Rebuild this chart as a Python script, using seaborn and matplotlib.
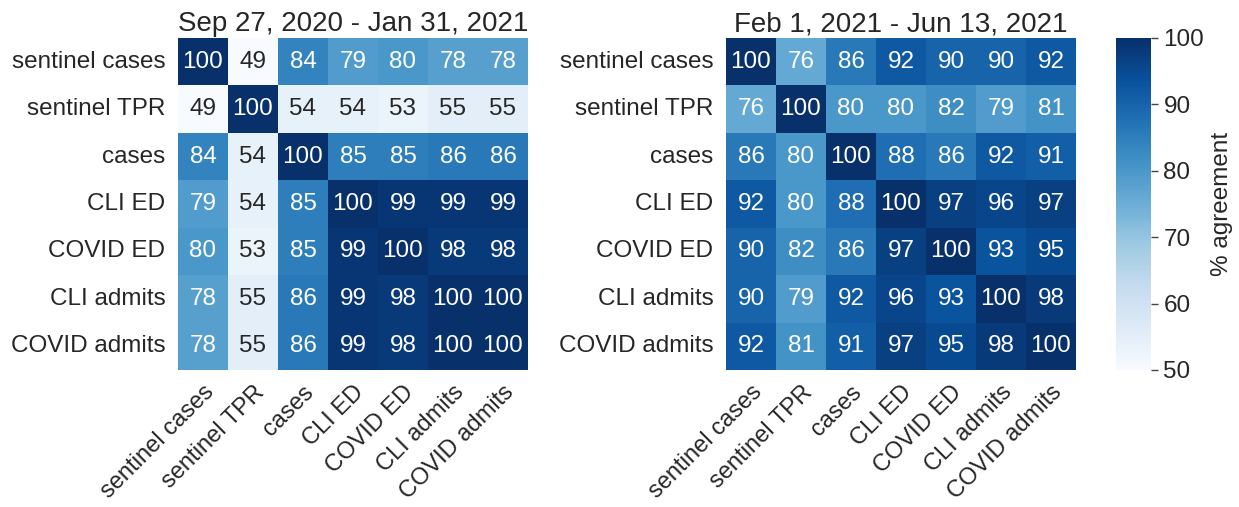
import numpy as np
import pandas as pd
import matplotlib
matplotlib.use("Agg")
import matplotlib.pyplot as plt
import seaborn as sns

labels = ["sentinel cases", "sentinel TPR", "cases", "CLI ED", "COVID ED", "CLI admits", "COVID admits"]

period1 = "Sep 27, 2020 - Jan 31, 2021"
period2 = "Feb 1, 2021 - Jun 13, 2021"

agree1 = [
    [100, 49, 84, 79, 80, 78, 78],
    [49, 100, 54, 54, 53, 55, 55],
    [84, 54, 100, 85, 85, 86, 86],
    [79, 54, 85, 100, 99, 99, 99],
    [80, 53, 85, 99, 100, 98, 98],
    [78, 55, 86, 99, 98, 100, 100],
    [78, 55, 86, 99, 98, 100, 100],
]
agree2 = [
    [100, 76, 86, 92, 90, 90, 92],
    [76, 100, 80, 80, 82, 79, 81],
    [86, 80, 100, 88, 86, 92, 91],
    [92, 80, 88, 100, 97, 96, 97],
    [90, 82, 86, 97, 100, 93, 95],
    [90, 79, 92, 96, 93, 100, 98],
    [92, 81, 91, 97, 95, 98, 100],
]

sns.set_theme(style="white", font_scale=1.0)
plt.rcParams['font.family'] = ['Liberation Sans', 'DejaVu Sans']

fig = plt.figure(figsize=(12.39, 5.07), dpi=100)
W, H = 1239, 507
def rect(x0, y0, x1, y1):
    return [x0 / W, 1 - y1 / H, (x1 - x0) / W, (y1 - y0) / H]

ax1 = fig.add_axes(rect(178, 38, 528, 370))
ax2 = fig.add_axes(rect(726, 38, 1076, 370))
cax = fig.add_axes(rect(1116, 38, 1151, 370))

df1 = pd.DataFrame(agree1, index=labels, columns=labels)
df2 = pd.DataFrame(agree2, index=labels, columns=labels)

FS = 17.5
kw = dict(cmap="Blues", vmin=50, vmax=100, annot=True, fmt="d",
          annot_kws={"fontsize": 17.5})
sns.heatmap(df1, ax=ax1, cbar=False, **kw)
sns.heatmap(df2, ax=ax2, cbar_ax=cax, cbar_kws={"label": "% agreement"}, **kw)

for ax, t in [(ax1, period1), (ax2, period2)]:
    ax.set_title(t, fontsize=20, pad=5)
    ax.set_xticklabels(ax.get_xticklabels(), rotation=45, ha="right",
                       rotation_mode="anchor", fontsize=17)
    ax.set_yticklabels(ax.get_yticklabels(), rotation=0, fontsize=FS)
    ax.tick_params(axis="y", length=0, pad=9)
    ax.tick_params(axis="x", length=0, pad=8)

cax.tick_params(labelsize=FS, length=5, width=1, color="#444444", right=True, pad=4)
cax.yaxis.label.set_size(FS)
cax.yaxis.labelpad = 5

fig.savefig("out.png", dpi=100)
